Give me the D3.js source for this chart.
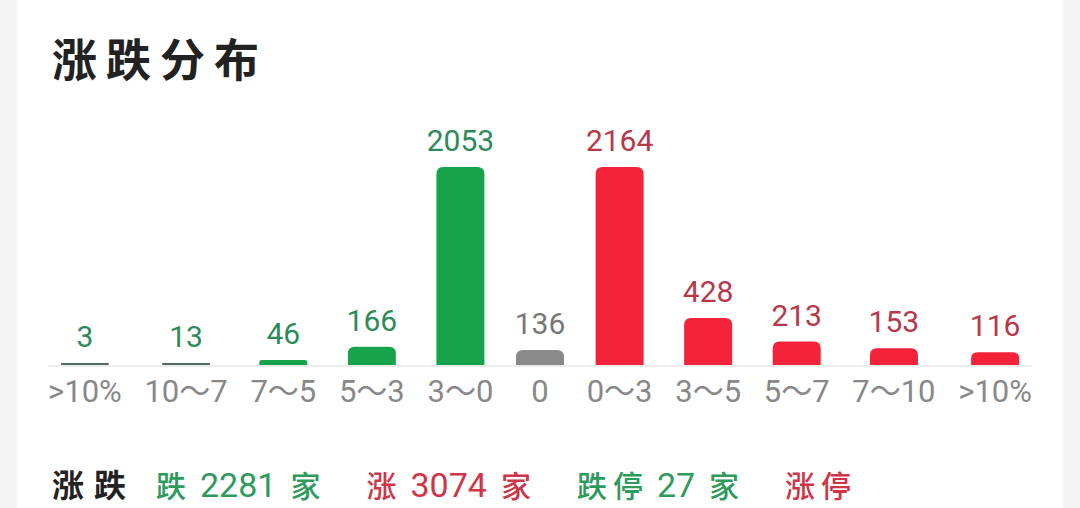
<!DOCTYPE html>
<html>
<head>
<meta charset="utf-8">
<script src="https://cdn.jsdelivr.net/npm/d3@7"></script>
<style>
  body { margin: 0; background: #f4f4f4; }
  svg { display: block; }
</style>
</head>
<body>
<svg id="chart" width="1080" height="508"></svg>
<script>
// Data
const categories = [">10%", "10～7", "7～5", "5～3", "3～0", "0", "0～3", "3～5", "5～7", "7～10", ">10%"];
const counts = [3, 13, 46, 166, 2053, 136, 2164, 428, 213, 153, 116];
const trend = ["down", "down", "down", "down", "down", "flat", "up", "up", "up", "up", "up"];

// Summary row
const summaryNames = ["跌", "涨", "跌停", "涨停"];
const summaryCounts = [2281, 3074, 27, null];
const summaryTrend = ["down", "up", "down", "up"];

const barColor = { down: "#17a24c", flat: "#8a8a8a", up: "#f4233a" };
const valueColor = { down: "#2d8a5a", flat: "#777777", up: "#b8384a" };
const summaryColor = { down: "#2e9a5c", up: "#cf3447" };

const svg = d3.select("#chart");
const numFont = "Roboto, 'Noto Sans CJK SC', sans-serif";
const cjkFont = "'Noto Sans CJK SC', sans-serif";

// Card background
svg.append("rect")
  .attr("x", 17).attr("y", 0)
  .attr("width", 1046).attr("height", 508)
  .attr("fill", "#ffffff");

// Title
svg.append("text")
  .attr("x", 52).attr("y", 77)
  .style("font-family", cjkFont)
  .style("font-size", "45px")
  .style("font-weight", "bold")
  .style("letter-spacing", "9px")
  .attr("fill", "#222")
  .text("涨跌分布");

// Chart area
const left = 48, right = 1032, baseY = 365, barW = 48;

// Category labels: equal gaps between items, each item at least a bar wide
const labels = svg.append("g").selectAll("text")
  .data(categories)
  .join("text")
  .attr("y", 402)
  .attr("text-anchor", "middle")
  .style("font-family", numFont)
  .style("font-size", "31px")
  .attr("fill", "#888888")
  .text(d => d);

const widths = labels.nodes().map(n => Math.max(n.getComputedTextLength(), barW));
const gap = (right - left - d3.sum(widths)) / (categories.length - 1);
const centers = [];
let cursor = left;
widths.forEach(w => { centers.push(cursor + w / 2); cursor += w + gap; });

const x = d3.scaleOrdinal().domain(d3.range(categories.length)).range(centers);
const y = d3.scaleLinear().domain([0, 1800]).range([0, 198]).clamp(true);

labels.attr("x", (d, i) => x(i));

// Baseline
svg.append("line")
  .attr("x1", left).attr("x2", right)
  .attr("y1", baseY + 1).attr("y2", baseY + 1)
  .attr("stroke", "#ececec")
  .attr("stroke-width", 2);

function barPath(cx, h) {
  const x0 = cx - barW / 2, x1 = cx + barW / 2, top = baseY - h;
  const r = Math.min(7, h / 2);
  return `M${x0},${baseY}V${top + r}Q${x0},${top} ${x0 + r},${top}` +
    `H${x1 - r}Q${x1},${top} ${x1},${top + r}V${baseY}Z`;
}

const bars = svg.append("g").selectAll("g")
  .data(counts)
  .join("g");

bars.append("path")
  .attr("d", (d, i) => barPath(x(i), Math.max(y(d), 2)))
  .attr("fill", (d, i) => y(d) < 3 ? "#4f6a62" : barColor[trend[i]]);

bars.append("text")
  .attr("x", (d, i) => x(i))
  .attr("y", d => baseY - Math.max(y(d), 2) - 16)
  .attr("text-anchor", "middle")
  .style("font-family", numFont)
  .style("font-size", "30px")
  .attr("fill", (d, i) => valueColor[trend[i]])
  .text(d => d);

// Summary row
const row = svg.append("text")
  .attr("x", 52).attr("y", 497)
  .style("font-family", numFont);

row.append("tspan")
  .style("font-family", cjkFont)
  .style("font-size", "32px")
  .style("font-weight", "bold")
  .style("letter-spacing", "10px")
  .attr("fill", "#222")
  .text("涨跌");

summaryNames.forEach((name, i) => {
  const c = summaryColor[summaryTrend[i]];
  row.append("tspan")
    .attr("dx", i === 0 ? 20 : 46)
    .style("font-family", cjkFont)
    .style("font-size", "30px")
    .style("font-weight", "500")
    .style("letter-spacing", "6px")
    .attr("fill", c)
    .text(name);
  if (summaryCounts[i] != null) {
    row.append("tspan")
      .attr("dx", 8)
      .style("font-size", "34px")
      .attr("fill", c)
      .text(summaryCounts[i]);
    row.append("tspan")
      .attr("dx", 14)
      .style("font-family", cjkFont)
      .style("font-size", "30px")
      .style("font-weight", "500")
      .attr("fill", c)
      .text("家");
  }
});
</script>
</body>
</html>
